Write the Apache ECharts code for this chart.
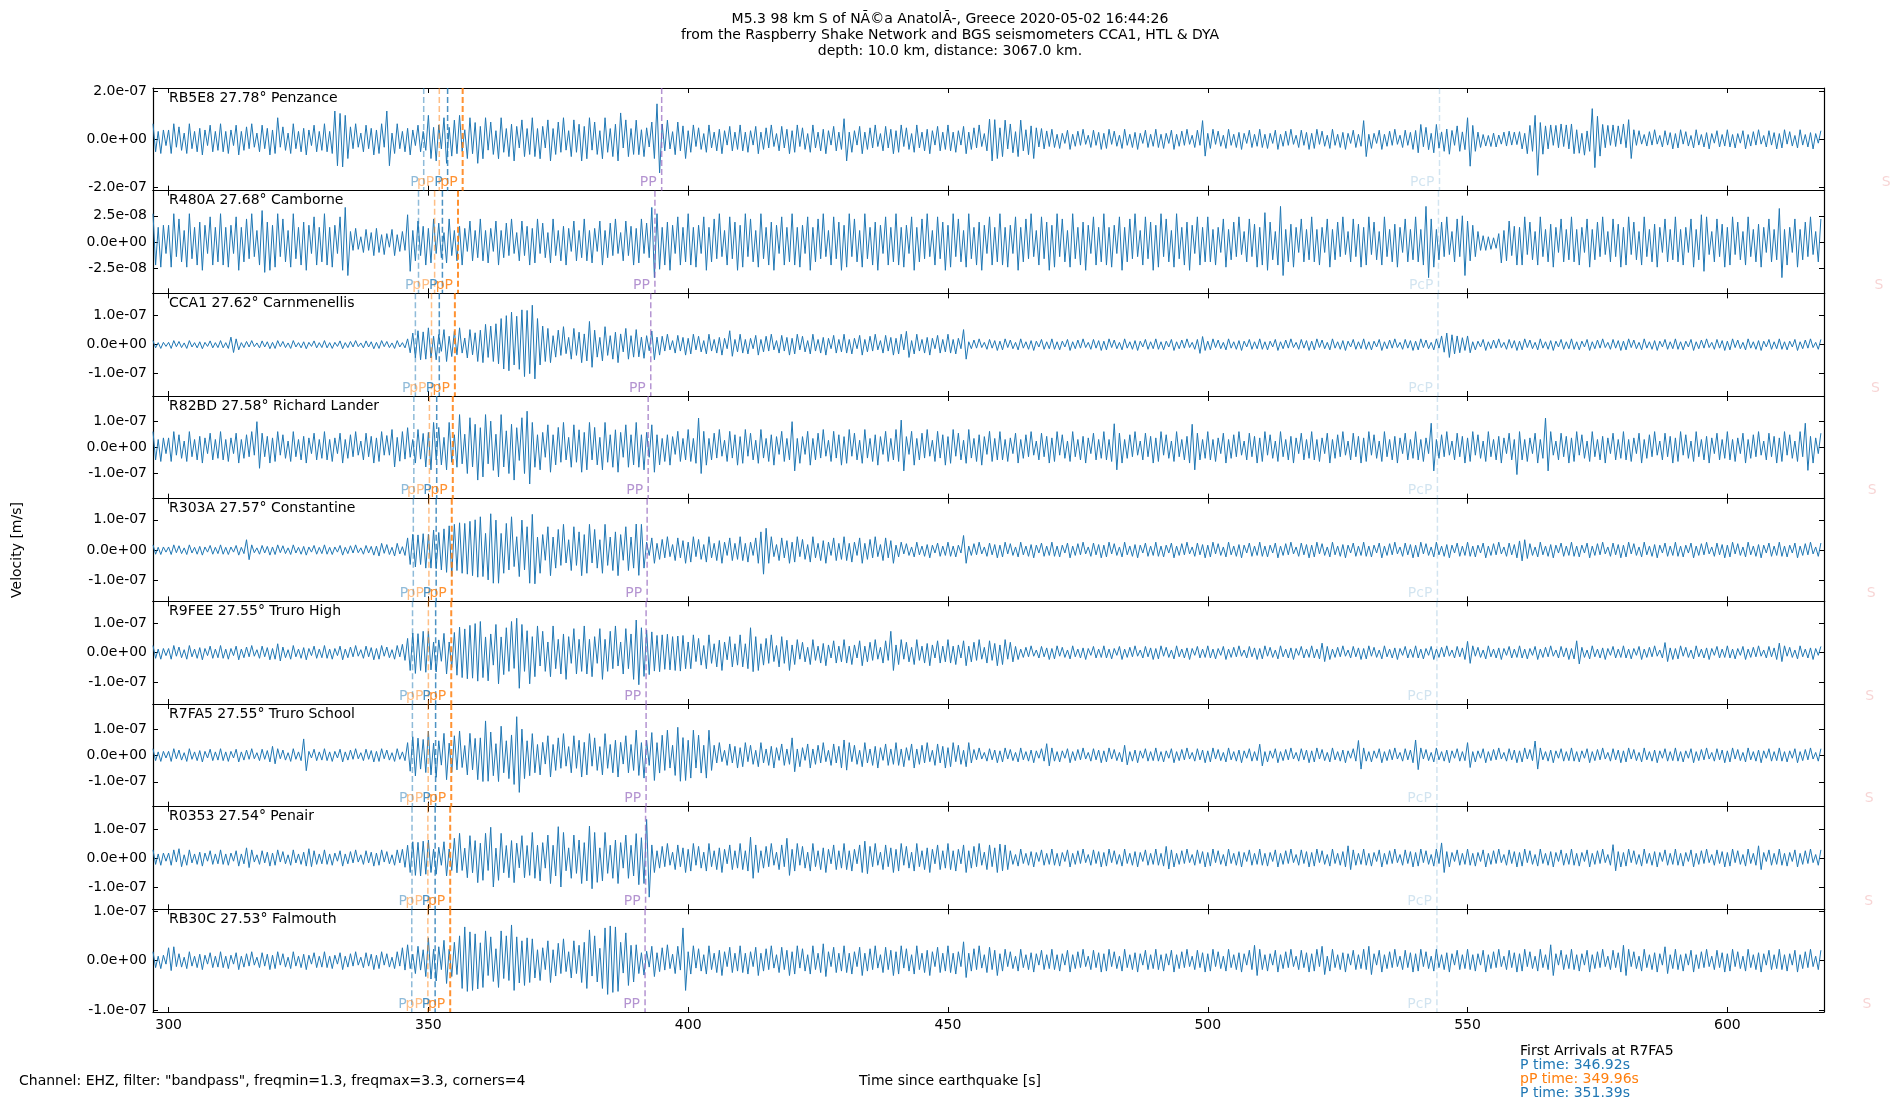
<!DOCTYPE html>
<html>
<head>
<meta charset="utf-8">
<script src="https://cdn.jsdelivr.net/npm/echarts@6/dist/echarts.min.js"></script>
<style>
html,body{margin:0;padding:0;background:#fff;}
#chart{width:1900px;height:1100px;}
</style>
</head>
<body>
<div id="chart"></div>
<script>
// ---------------- DATA ----------------
const T_START = 297;            // time of first sample [s]
const T_STEP = 0.5;             // sample spacing [s]
const X_TICKS = [300, 350, 400, 450, 500, 550, 600];
const STATION_LABELS = ['RB5E8 27.78° Penzance', 'R480A 27.68° Camborne', 'CCA1 27.62° Carnmenellis',
  'R82BD 27.58° Richard Lander', 'R303A 27.57° Constantine', 'R9FEE 27.55° Truro High',
  'R7FA5 27.55° Truro School', 'R0353 27.54° Penair', 'RB30C 27.53° Falmouth'];
// velocity extrema in nm/s, one line per 10 s (first line 297-299.5 s)
const RB5E8 = [65,-52,33,-59,39,-26,
39,-59,65,-33,52,-46,26,-59,65,-39,33,-52,46,-65,39,-26,59,-52,33,-46,
65,-52,33,-59,39,-26,59,-65,33,-46,52,-39,65,-33,26,-52,59,-39,46,-65,
39,-59,90,-33,52,-46,26,-59,65,-39,33,-52,46,-65,39,-26,59,-52,33,-46,
65,-52,33,-59,118,-110,108,-115,100,-80,52,-39,65,-33,26,-52,59,-39,46,-65,
39,-59,65,-33,118,-110,26,-59,65,-39,33,-52,46,-65,39,-26,59,-52,33,-46,
100,-80,50,-90,60,-40,90,-100,50,-70,80,-60,100,-50,40,-80,90,-60,70,-100,
54,-81,90,-45,72,-63,36,-81,90,-54,45,-72,63,-90,54,-36,81,-72,45,-63,
90,-72,45,-81,54,-36,81,-90,45,-63,72,-54,90,-45,36,-72,81,-54,63,-90,
54,-81,90,-45,72,-63,36,-81,90,-54,45,-72,63,-90,110,-36,81,-72,45,-63,
80,-64,40,-72,48,-32,72,-80,148,-140,64,-48,80,-40,32,-64,72,-48,56,-80,
36,-54,60,-30,48,-42,24,-54,60,-36,30,-48,42,-60,36,-24,54,-48,30,-42,
60,-48,30,-54,36,-24,54,-60,30,-42,48,-36,60,-30,24,-48,54,-36,42,-60,
36,-54,60,-30,48,-42,24,-54,60,-36,30,-48,42,-60,36,-24,54,-48,30,-42,
86,-90,30,-54,36,-24,54,-60,30,-42,48,-36,60,-30,24,-48,54,-36,42,-60,
36,-54,60,-30,48,-42,24,-54,60,-36,30,-48,42,-60,36,-24,54,-48,30,-42,
60,-48,30,-54,36,-24,54,-60,30,-42,48,-36,60,-30,24,-48,84,-90,82,-80,
48,-72,80,-40,64,-56,32,-72,80,-48,40,-64,56,-80,48,-32,45,-40,35,-30,
42,-34,21,-38,25,-17,38,-42,21,-29,34,-25,42,-21,17,-34,38,-25,29,-42,
25,-38,42,-21,34,-29,17,-38,42,-25,21,-34,29,-42,25,-17,38,-34,21,-29,
42,-34,21,-38,25,-17,38,-42,21,-29,34,-25,42,-21,17,-34,38,-25,78,-70,
25,-38,42,-21,34,-29,17,-38,42,-25,21,-34,29,-42,25,-17,38,-34,21,-29,
42,-34,21,-38,25,-17,38,-42,21,-29,34,-25,42,-21,17,-34,38,-25,29,-42,
25,-38,42,-21,34,-29,17,-38,42,-25,21,-34,29,-42,25,-17,38,-34,21,-29,
78,-72,21,-38,25,-17,38,-42,21,-29,34,-25,42,-21,17,-34,38,-25,29,-42,
37,-56,62,-31,50,-43,25,-56,62,-37,31,-50,43,-62,37,-25,56,-50,31,-43,
90,-112,58,-50,30,-34,20,-28,16,-30,26,-32,18,-20,30,-28,34,-24,30,-22,
32,-40,25,-60,58,-50,100,-150,70,-62,56,-40,60,-25,58,-35,64,-30,60,-40,
64,-60,40,-58,25,-66,35,-50,128,-118,96,-70,62,-35,58,-25,60,-30,56,-20,
64,-35,82,-80,40,-25,36,-20,20,-28,32,-24,40,-20,16,-32,36,-24,28,-40,
24,-36,40,-20,32,-28,16,-36,40,-24,20,-32,28,-40,24,-16,36,-32,20,-28,
40,-32,20,-36,24,-16,36,-40,20,-28,32,-24,40,-20,16,-32,36,-24,28,-40,
24,-36,40,-20,32,-28,16,-36,40,-24,20,-32,28,-40,24,-16,36];
const R480A = [27,-22,14,-24,16,-11,
16,-24,27,-14,22,-19,11,-24,27,-16,14,-22,19,-27,16,-11,24,-22,14,-19,
27,-22,14,-24,16,-11,24,-27,14,-19,22,-16,27,-14,11,-22,30,-29,19,-27,
16,-24,27,-14,22,-19,11,-24,27,-16,14,-22,19,-27,16,-11,24,-22,14,-19,
27,-22,14,-24,16,-11,24,-27,33,-32,10,-8,13,-7,5,-10,12,-8,9,-13,
13,-10,7,-12,8,-5,12,-13,7,-9,10,-8,26,-28,11,-18,20,-13,15,-22,
13,-20,22,-11,18,-15,9,-20,22,-13,11,-18,15,-22,13,-9,20,-18,11,-15,
22,-18,11,-20,13,-9,20,-22,11,-15,18,-13,22,-11,9,-18,20,-13,15,-22,
13,-20,22,-11,18,-15,9,-20,22,-13,11,-18,15,-22,13,-9,20,-18,11,-15,
22,-18,11,-20,13,-9,20,-22,11,-15,18,-13,22,-11,9,-18,20,-13,15,-22,
13,-20,22,-11,18,-15,33,-34,27,-26,14,-22,19,-27,16,-11,24,-22,14,-19,
27,-22,14,-24,16,-11,24,-27,14,-19,22,-16,27,-14,11,-22,24,-16,19,-27,
16,-24,27,-14,22,-19,11,-24,27,-16,14,-22,19,-27,16,-11,24,-22,14,-19,
27,-22,14,-24,16,-11,24,-27,14,-19,22,-16,27,-14,11,-22,24,-16,19,-27,
16,-24,27,-14,22,-19,11,-24,27,-16,14,-22,19,-27,16,-11,24,-22,14,-19,
27,-22,14,-24,16,-11,24,-27,14,-19,22,-16,27,-14,11,-22,24,-16,19,-27,
16,-24,27,-14,22,-19,11,-24,27,-16,14,-22,19,-27,16,-11,24,-22,14,-19,
27,-22,14,-24,16,-11,24,-27,14,-19,22,-16,27,-14,11,-22,24,-16,19,-27,
16,-24,27,-14,22,-19,11,-24,27,-16,14,-22,19,-27,16,-11,24,-22,14,-19,
27,-22,14,-24,16,-11,24,-27,14,-19,22,-16,27,-14,11,-22,24,-16,19,-27,
16,-24,27,-14,22,-19,11,-24,27,-16,14,-22,19,-27,16,-11,24,-22,14,-19,
24,-19,12,-22,14,-10,22,-24,12,-17,19,-14,24,-12,10,-19,22,-14,17,-24,
14,-22,28,-27,19,-17,10,-22,34,-32,12,-19,17,-24,14,-10,22,-19,12,-17,
24,-19,12,-22,14,-10,22,-24,12,-17,19,-14,24,-12,10,-19,22,-14,17,-24,
14,-22,24,-12,19,-17,10,-22,24,-14,12,-19,17,-24,14,-10,22,-19,12,-17,
24,-19,12,-22,34,-34,22,-24,12,-17,19,-14,24,-12,10,-19,22,-14,25,-32,
20,-18,16,-14,10,-8,6,-8,5,-7,4,-6,8,-20,11,-18,20,-13,15,-22,
14,-22,24,-12,19,-17,10,-22,24,-14,12,-19,17,-24,14,-10,22,-19,12,-17,
24,-19,12,-22,14,-10,22,-24,12,-17,19,-14,24,-12,10,-19,22,-14,17,-24,
14,-22,24,-12,19,-17,10,-22,24,-14,12,-19,17,-24,14,-10,22,-19,12,-17,
24,-19,12,-22,14,-10,22,-24,12,-17,26,-28,24,-12,10,-19,22,-14,17,-24,
14,-22,24,-12,19,-17,10,-22,24,-14,12,-19,17,-24,14,-10,22,-19,12,-17,
32,-34,12,-22,14,-10,22,-24,12,-17,19,-14,24,-12,10,-19,22];
const CCA1 = [14,-11,7,-13,8,-6,
8,-13,14,-7,11,-10,6,-13,14,-8,7,-11,10,-14,8,-6,13,-11,7,-10,
14,-11,7,-13,26,-27,20,-18,7,-10,11,-8,14,-7,6,-11,13,-8,10,-14,
8,-13,14,-7,11,-10,6,-13,14,-8,7,-11,10,-14,8,-6,13,-11,7,-10,
14,-11,7,-13,8,-6,13,-14,7,-10,11,-8,14,-7,6,-11,13,-8,10,-14,
8,-13,14,-7,11,-10,6,-13,14,-8,7,-11,20,-28,40,-45,48,-52,44,-50,
58,-46,29,-52,35,-23,52,-58,29,-41,46,-35,58,-29,23,-46,52,-35,41,-58,
50,-62,70,-44,64,-58,72,-66,90,-84,100,-90,112,-70,98,-85,120,-110,118,-100,
136,-118,90,-70,64,-58,56,-62,31,-43,50,-37,62,-31,25,-50,56,-37,43,-62,
37,-56,80,-78,50,-43,25,-56,62,-37,31,-50,43,-62,37,-25,56,-50,31,-43,
52,-42,26,-47,31,-21,47,-52,26,-36,29,-22,36,-18,14,-29,32,-22,25,-36,
22,-32,36,-18,29,-25,14,-32,36,-22,18,-29,25,-36,22,-14,48,-40,18,-25,
36,-29,18,-32,22,-14,32,-36,18,-25,29,-22,36,-18,14,-29,32,-22,25,-36,
22,-32,36,-18,29,-25,14,-32,36,-22,18,-29,25,-36,22,-14,32,-29,18,-25,
36,-29,18,-32,22,-14,32,-36,18,-25,29,-22,36,-18,14,-29,32,-22,25,-36,
22,-32,36,-18,46,-44,14,-32,36,-22,18,-29,25,-36,22,-14,32,-29,18,-25,
36,-29,18,-32,22,-14,52,-50,10,-14,16,-12,20,-10,8,-16,18,-12,14,-20,
12,-18,20,-10,16,-14,8,-18,20,-12,10,-16,14,-20,12,-8,18,-16,10,-14,
20,-16,10,-18,12,-8,18,-20,10,-14,16,-12,20,-10,8,-16,18,-12,14,-20,
12,-18,20,-10,16,-14,8,-18,20,-12,10,-16,14,-20,12,-8,18,-16,10,-14,
20,-16,10,-18,12,-8,18,-20,10,-14,16,-12,20,-10,8,-16,18,-30,28,-20,
12,-18,20,-10,16,-14,8,-18,20,-12,10,-16,14,-20,12,-8,18,-16,10,-14,
20,-16,10,-18,12,-8,18,-20,10,-14,16,-12,20,-10,8,-16,18,-12,14,-20,
12,-18,20,-10,16,-14,8,-18,20,-12,10,-16,14,-20,12,-8,18,-16,10,-14,
20,-16,10,-18,12,-8,18,-20,10,-14,16,-12,20,-10,8,-16,18,-12,14,-20,
12,-18,20,-10,16,-14,8,-18,20,-12,30,-26,40,-44,34,-32,30,-28,24,-20,
30,-28,10,-18,12,-8,18,-20,10,-14,16,-12,20,-10,8,-16,18,-12,14,-20,
12,-18,20,-10,16,-14,8,-18,20,-12,10,-16,14,-20,12,-8,18,-16,10,-14,
20,-16,10,-18,12,-8,18,-20,10,-14,16,-12,20,-10,8,-16,18,-12,14,-20,
12,-18,20,-10,16,-14,8,-18,20,-12,10,-16,14,-20,12,-8,18,-16,10,-14,
20,-16,10,-18,12,-8,18,-20,10,-14,16,-12,20,-10,8,-16,18,-12,14,-20,
12,-18,20,-10,16,-14,8,-18,20,-12,10,-16,14,-20,12,-8,18,-16,10,-14,
20,-16,10,-18,12,-8,18,-20,10,-14,16,-12,20,-10,8,-16,18];
const R82BD = [60,-48,30,-54,36,-24,
36,-54,60,-30,48,-42,24,-54,60,-36,30,-48,42,-60,36,-24,54,-48,30,-42,
60,-48,30,-54,36,-24,54,-60,30,-42,48,-36,60,-30,98,-80,54,-36,42,-60,
36,-54,60,-30,48,-42,24,-54,60,-36,30,-48,42,-60,36,-24,54,-48,30,-42,
60,-48,30,-54,36,-24,54,-60,30,-42,48,-36,60,-30,24,-48,54,-36,42,-60,
36,-54,60,-30,45,-30,68,-75,38,-53,60,-45,75,-38,30,-60,68,-45,53,-75,
57,-86,95,-48,76,-67,38,-86,95,-57,48,-76,125,-63,50,-100,113,-75,88,-125,
75,-113,125,-63,100,-88,50,-113,125,-75,63,-100,88,-125,75,-50,113,-100,138,-140,
95,-76,48,-86,57,-38,86,-95,48,-67,76,-57,95,-48,38,-76,86,-57,67,-95,
57,-86,95,-48,76,-67,38,-86,95,-57,48,-76,67,-95,57,-38,86,-76,48,-67,
95,-76,48,-86,57,-38,86,-95,48,-67,34,-54,48,-68,41,-27,61,-54,34,-48,
68,-54,34,-61,112,-100,61,-68,34,-48,54,-41,68,-34,27,-54,61,-41,48,-68,
41,-61,68,-34,54,-48,27,-61,68,-41,34,-54,48,-68,41,-27,61,-54,34,-48,
98,-90,34,-61,41,-27,61,-68,34,-48,54,-41,68,-34,27,-54,61,-41,48,-68,
41,-61,68,-34,54,-48,27,-61,68,-41,34,-54,48,-68,41,-27,61,-54,34,-48,
68,-54,104,-90,41,-27,61,-68,34,-48,54,-41,68,-34,27,-54,61,-41,48,-68,
41,-61,68,-34,54,-48,27,-61,68,-41,34,-54,48,-68,41,-27,61,-54,34,-48,
60,-48,30,-54,36,-24,54,-60,30,-42,48,-36,60,-30,24,-48,54,-36,42,-60,
36,-54,60,-30,48,-42,24,-54,60,-36,30,-48,42,-60,36,-24,54,-48,30,-42,
60,-48,30,-54,90,-86,54,-60,30,-42,48,-36,60,-30,24,-48,54,-36,42,-60,
36,-54,60,-30,48,-42,24,-54,60,-36,30,-48,42,-60,88,-86,54,-48,30,-42,
60,-48,30,-54,36,-24,54,-60,30,-42,48,-36,60,-30,24,-48,54,-36,42,-60,
36,-54,60,-30,48,-42,24,-54,60,-36,30,-48,42,-60,36,-24,54,-48,30,-42,
60,-48,30,-54,36,-24,54,-60,30,-42,48,-36,60,-30,24,-48,54,-36,42,-60,
36,-54,60,-30,48,-42,24,-54,60,-36,30,-48,42,-60,36,-24,54,-48,30,-42,
60,-48,30,-54,36,-24,92,-90,30,-42,48,-36,60,-30,24,-48,54,-36,42,-60,
36,-54,60,-30,48,-42,24,-54,60,-36,30,-48,42,-60,36,-24,54,-48,30,-104,
60,-48,30,-54,36,-24,54,-60,30,-42,112,-90,60,-30,24,-48,54,-36,42,-60,
36,-54,60,-30,48,-42,24,-54,60,-36,30,-48,42,-60,36,-24,54,-48,30,-42,
60,-48,30,-54,36,-24,54,-60,30,-42,48,-36,60,-30,24,-48,54,-36,42,-60,
36,-54,60,-30,48,-42,24,-54,60,-36,30,-48,42,-60,36,-24,54,-48,30,-42,
60,-48,30,-54,36,-24,54,-60,30,-42,48,-36,60,-30,24,-48,54,-36,42,-60,
36,-54,60,-30,48,-42,24,-54,60,-36,92,-88,42,-60,36,-24,54];
const R303A = [17,-14,9,-15,10,-7,
10,-15,17,-9,14,-12,7,-15,17,-10,9,-14,12,-17,10,-7,15,-14,9,-12,
17,-14,9,-15,10,-7,15,-17,9,-12,34,-32,17,-9,7,-14,15,-10,12,-17,
10,-15,17,-9,14,-12,7,-15,17,-10,9,-14,12,-17,10,-7,15,-14,9,-12,
17,-14,9,-15,10,-7,15,-17,9,-12,14,-10,17,-9,7,-14,15,-10,12,-17,
13,-20,22,-11,18,-15,9,-20,22,-13,11,-18,40,-48,52,-56,50,-48,54,-60,
52,-60,66,-62,58,-66,70,-74,80,-86,85,-68,90,-77,88,-80,95,-85,100,-90,
110,-88,55,-99,120,-110,99,-110,55,-77,88,-66,110,-55,44,-88,99,-66,77,-110,
118,-112,43,-77,51,-34,77,-85,43,-60,68,-51,85,-43,34,-68,77,-51,60,-85,
51,-77,85,-43,68,-60,34,-77,85,-51,43,-68,60,-85,51,-34,77,-68,43,-60,
86,-84,85,-60,26,-18,40,-44,22,-31,35,-26,44,-22,18,-35,40,-26,31,-44,
26,-40,44,-22,35,-31,18,-40,44,-26,22,-35,31,-44,26,-18,40,-35,22,-31,
44,-35,22,-40,26,-18,40,-44,60,-80,72,-44,44,-22,18,-35,40,-26,31,-44,
26,-40,44,-22,35,-31,18,-40,44,-26,22,-35,31,-44,26,-18,40,-35,22,-31,
44,-35,22,-40,26,-18,40,-44,22,-31,35,-26,44,-22,18,-35,40,-26,31,-44,
16,-23,26,-13,21,-18,10,-23,26,-16,13,-21,18,-26,16,-10,23,-21,13,-18,
26,-21,13,-23,16,-10,48,-44,13,-18,21,-16,26,-13,10,-21,23,-16,18,-26,
16,-23,26,-13,21,-18,10,-23,26,-16,13,-21,18,-26,16,-10,23,-21,13,-18,
26,-21,13,-23,16,-10,23,-26,13,-18,21,-16,26,-13,10,-21,23,-16,18,-26,
16,-23,26,-13,21,-18,10,-23,26,-16,13,-21,18,-26,16,-10,23,-21,13,-18,
26,-21,13,-23,16,-10,23,-26,13,-18,21,-16,26,-13,10,-21,23,-16,18,-26,
16,-23,26,-13,21,-18,10,-23,26,-16,13,-21,18,-26,16,-10,23,-21,13,-18,
26,-21,13,-23,16,-10,23,-26,13,-18,21,-16,26,-13,10,-21,23,-16,18,-26,
16,-23,26,-13,21,-18,10,-23,26,-16,13,-21,18,-26,16,-10,23,-21,13,-18,
26,-21,13,-23,16,-10,23,-26,13,-18,21,-16,26,-13,10,-21,23,-16,18,-26,
16,-23,26,-13,21,-18,10,-23,26,-16,13,-21,18,-26,16,-10,23,-21,13,-18,
26,-21,13,-23,16,-10,23,-26,13,-18,21,-16,26,-13,10,-21,23,-16,18,-26,
30,-36,34,-28,21,-18,10,-23,26,-16,13,-21,18,-26,16,-10,23,-21,13,-18,
26,-21,13,-23,16,-10,23,-26,13,-18,21,-16,26,-13,10,-21,23,-16,18,-26,
16,-23,26,-13,21,-18,10,-23,26,-16,13,-21,18,-26,16,-10,23,-21,13,-18,
26,-21,13,-23,16,-10,23,-26,13,-18,21,-16,26,-13,10,-21,23,-16,18,-26,
16,-23,26,-13,21,-18,10,-23,26,-16,13,-21,18,-26,16,-10,23,-21,13,-18,
26,-21,13,-23,16,-10,23,-26,13,-18,21,-16,26,-13,10,-21,23];
const R9FEE = [24,-19,12,-22,14,-10,
14,-22,24,-12,19,-17,10,-22,24,-14,12,-19,17,-24,14,-10,22,-19,12,-17,
24,-19,12,-22,14,-10,22,-24,12,-17,19,-14,24,-12,10,-19,22,-14,17,-24,
14,-22,30,-28,19,-17,10,-22,24,-14,12,-19,17,-24,14,-10,22,-19,12,-17,
24,-19,12,-22,14,-10,22,-24,12,-17,19,-14,24,-12,10,-19,22,-14,17,-24,
14,-22,24,-12,19,-17,10,-22,24,-14,28,-26,48,-60,66,-70,64,-60,72,-66,
72,-58,36,-65,43,-29,65,-72,36,-50,68,-76,86,-84,80,-88,92,-86,98,-96,
105,-84,53,-95,63,-42,95,-105,53,-74,84,-63,105,-53,116,-120,95,-63,74,-105,
54,-81,90,-45,72,-63,36,-81,90,-54,45,-72,63,-90,54,-36,81,-72,45,-63,
90,-72,45,-81,54,-36,81,-90,45,-63,72,-54,90,-45,36,-72,81,-54,63,-90,
110,-108,84,-80,76,-74,70,-62,58,-64,60,-56,62,-58,54,-60,56,-62,58,-54,
36,-54,60,-30,48,-42,24,-54,60,-36,30,-48,42,-60,36,-24,54,-48,30,-42,
60,-48,30,-54,84,-64,54,-60,30,-42,48,-36,60,-30,24,-48,54,-36,42,-60,
26,-40,44,-22,35,-31,18,-40,44,-26,22,-35,31,-44,26,-18,40,-35,22,-31,
44,-35,22,-40,26,-18,40,-44,22,-31,35,-26,44,-22,18,-35,40,-26,72,-60,
26,-40,44,-22,35,-31,18,-40,44,-26,22,-35,31,-44,26,-18,40,-35,22,-31,
44,-35,22,-40,26,-18,40,-44,22,-31,35,-26,44,-22,18,-35,40,-26,31,-44,
26,-40,44,-22,35,-31,21,-23,12,-16,18,-14,23,-12,9,-18,21,-14,16,-23,
14,-21,23,-12,18,-16,9,-21,23,-14,12,-18,16,-23,14,-9,21,-18,12,-16,
23,-18,12,-21,14,-9,21,-23,12,-16,18,-14,23,-12,9,-18,21,-14,16,-23,
14,-21,23,-12,18,-16,9,-21,23,-14,12,-18,16,-23,14,-9,21,-18,12,-16,
23,-18,12,-21,14,-9,21,-23,12,-16,18,-14,23,-12,9,-18,21,-14,16,-23,
14,-21,23,-12,18,-16,9,-21,23,-14,12,-18,16,-23,14,-9,21,-18,12,-16,
23,-18,12,-21,32,-30,21,-23,12,-16,18,-14,23,-12,9,-18,21,-14,16,-23,
14,-21,23,-12,18,-16,9,-21,23,-14,12,-18,16,-23,14,-9,21,-18,12,-16,
23,-18,12,-21,14,-9,21,-23,12,-16,18,-14,23,-12,9,-18,21,-14,16,-23,
38,-36,23,-12,18,-16,9,-21,23,-14,12,-18,16,-23,14,-9,21,-18,12,-16,
23,-18,12,-21,14,-9,21,-23,12,-16,18,-14,23,-12,9,-18,21,-14,16,-23,
14,-21,40,-38,18,-16,9,-21,23,-14,12,-18,16,-23,14,-9,21,-18,12,-16,
23,-18,12,-21,14,-9,21,-23,12,-16,18,-14,23,-12,9,-18,34,-30,16,-23,
14,-21,23,-12,18,-16,9,-21,23,-14,12,-18,16,-23,14,-9,21,-18,12,-16,
23,-18,12,-21,14,-9,21,-23,12,-16,18,-14,23,-12,9,-18,21,-14,16,-23,
32,-30,23,-12,18,-16,9,-21,23,-14,12,-18,16,-23,14,-9,21];
const R7FA5 = [25,-20,13,-23,15,-10,
15,-23,25,-13,20,-18,10,-23,25,-15,13,-20,18,-25,15,-10,23,-20,13,-18,
25,-20,13,-23,15,-10,23,-25,13,-18,20,-15,25,-13,10,-20,23,-15,18,-25,
34,-32,25,-13,20,-18,10,-23,25,-15,13,-20,62,-58,15,-10,23,-20,13,-18,
25,-20,13,-23,15,-10,23,-25,13,-18,20,-15,25,-13,10,-20,23,-15,18,-25,
15,-23,25,-13,20,-18,10,-23,25,-15,13,-20,48,-60,70,-78,65,-52,60,-65,
92,-74,46,-83,55,-37,83,-92,46,-64,74,-55,92,-46,37,-74,83,-55,64,-92,
66,-99,130,-98,88,-77,44,-99,110,-66,55,-88,77,-110,146,-140,99,-88,55,-77,
82,-66,41,-74,49,-33,74,-82,41,-57,66,-49,82,-41,33,-66,74,-49,57,-82,
49,-74,82,-41,66,-57,33,-74,82,-49,41,-66,57,-82,49,-33,74,-66,41,-57,
95,-76,48,-86,57,-38,86,-95,48,-67,76,-57,95,-48,38,-76,106,-98,67,-95,
57,-86,95,-48,76,-67,38,-86,95,-57,38,-29,48,-24,19,-38,43,-29,34,-48,
29,-43,48,-24,38,-34,19,-43,48,-29,24,-38,34,-48,29,-19,43,-38,24,-34,
66,-62,24,-43,29,-19,43,-48,24,-34,38,-29,48,-24,19,-38,43,-29,34,-48,
58,-56,48,-24,38,-34,19,-43,48,-29,24,-38,34,-48,29,-19,43,-38,24,-34,
48,-38,24,-43,29,-19,43,-48,24,-34,38,-29,48,-24,19,-38,43,-29,34,-48,
29,-43,48,-24,38,-34,19,-43,48,-29,22,-17,28,-14,11,-22,25,-17,20,-28,
17,-25,28,-14,22,-20,11,-25,28,-17,14,-22,20,-28,17,-11,25,-22,44,-40,
28,-22,14,-25,17,-11,25,-28,14,-20,22,-17,28,-14,11,-22,25,-17,20,-28,
17,-25,28,-14,22,-20,11,-25,38,-36,14,-22,20,-28,17,-11,25,-22,14,-20,
28,-22,14,-25,17,-11,25,-28,14,-20,22,-17,28,-14,11,-22,25,-17,20,-28,
17,-25,28,-14,22,-20,11,-25,28,-17,14,-22,20,-28,17,-11,25,-22,14,-20,
42,-40,14,-25,17,-11,25,-28,14,-20,22,-17,28,-14,11,-22,25,-17,20,-28,
17,-25,28,-14,22,-20,11,-25,28,-17,14,-22,20,-28,17,-11,25,-22,56,-52,
28,-22,14,-25,17,-11,25,-28,14,-20,22,-17,28,-14,11,-22,25,-17,20,-28,
58,-54,28,-14,22,-20,11,-25,28,-17,14,-22,20,-28,17,-11,25,-22,14,-20,
48,-46,14,-25,17,-11,25,-28,14,-20,22,-17,28,-14,11,-22,25,-17,20,-28,
17,-25,28,-14,22,-20,54,-52,28,-17,14,-22,20,-28,17,-11,25,-22,14,-20,
28,-22,14,-25,17,-11,25,-28,14,-20,22,-17,28,-14,11,-22,25,-17,20,-28,
17,-25,28,-14,22,-20,11,-25,28,-17,14,-22,20,-28,17,-11,25,-22,14,-20,
28,-22,14,-25,17,-11,25,-28,14,-20,22,-17,28,-14,11,-22,25,-17,20,-28,
17,-25,28,-14,22,-20,11,-25,28,-17,14,-22,20,-28,17,-11,25,-22,14,-20,
28,-22,14,-25,17,-11,25,-28,14,-20,22,-17,28,-14,11,-22,25];
const R0353 = [28,-22,14,-25,17,-11,
17,-25,28,-14,32,-30,11,-25,28,-17,14,-22,20,-28,17,-11,25,-22,14,-20,
28,-22,14,-25,17,-11,25,-28,14,-20,35,-33,28,-14,11,-22,25,-17,20,-28,
17,-25,28,-14,22,-20,11,-25,28,-17,14,-22,20,-28,32,-30,25,-22,14,-20,
28,-22,14,-25,17,-11,25,-28,14,-20,22,-17,28,-14,11,-22,25,-17,20,-28,
17,-25,28,-14,22,-20,11,-25,28,-17,30,-32,44,-50,56,-60,54,-62,58,-56,
62,-50,31,-56,37,-25,56,-62,31,-43,68,-51,85,-43,34,-68,77,-51,60,-85,
51,-77,85,-43,106,-100,34,-77,85,-51,43,-68,60,-85,51,-34,77,-68,43,-60,
88,-70,44,-79,53,-35,79,-88,44,-62,108,-100,88,-44,35,-70,79,-53,62,-88,
53,-79,110,-106,88,-84,35,-79,88,-53,44,-70,62,-88,53,-35,79,-70,44,-62,
84,-92,70,-88,133,-135,45,-50,25,-35,40,-30,50,-25,20,-40,45,-30,35,-50,
30,-45,50,-25,40,-35,20,-45,50,-30,25,-40,35,-50,30,-20,45,-40,25,-35,
50,-40,25,-45,72,-70,45,-50,25,-35,40,-30,50,-25,20,-40,45,-30,68,-60,
30,-45,50,-25,40,-35,20,-45,50,-30,25,-40,35,-50,30,-20,45,-40,25,-35,
50,-40,25,-45,30,-20,45,-50,58,-54,40,-30,50,-25,20,-40,45,-30,35,-50,
30,-45,50,-25,40,-35,20,-45,50,-30,25,-40,35,-50,30,-20,45,-40,25,-35,
50,-40,25,-45,30,-20,45,-50,25,-35,40,-30,50,-25,20,-40,45,-30,35,-50,
48,-44,45,-40,25,-22,12,-28,31,-19,16,-25,22,-31,19,-12,28,-25,16,-22,
31,-25,16,-28,19,-12,28,-31,16,-22,25,-19,31,-16,12,-25,28,-19,22,-31,
19,-28,31,-16,25,-22,12,-28,31,-19,16,-25,22,-31,19,-12,28,-25,16,-22,
31,-25,16,-28,40,-38,28,-31,16,-22,25,-19,31,-16,12,-25,28,-19,22,-31,
19,-28,31,-16,25,-22,12,-28,31,-19,16,-25,22,-31,19,-12,28,-25,16,-22,
31,-25,16,-28,19,-12,28,-31,16,-22,25,-19,31,-16,12,-25,28,-19,22,-31,
19,-28,31,-16,25,-22,12,-28,31,-19,16,-25,22,-31,42,-40,28,-25,16,-22,
31,-25,16,-28,19,-12,28,-31,16,-22,25,-19,31,-16,12,-25,28,-19,22,-31,
19,-28,31,-16,25,-22,12,-28,31,-19,52,-50,22,-31,19,-12,28,-25,16,-22,
31,-25,16,-28,19,-12,28,-31,16,-22,25,-19,31,-16,12,-25,28,-19,22,-31,
19,-28,31,-16,25,-22,12,-28,31,-19,16,-25,22,-31,19,-12,28,-25,16,-22,
31,-25,16,-28,19,-12,28,-31,16,-22,25,-19,31,-16,12,-25,46,-44,22,-31,
19,-28,31,-16,25,-22,12,-28,31,-19,16,-25,22,-31,19,-12,28,-25,16,-22,
31,-25,16,-28,19,-12,28,-31,16,-22,25,-19,31,-16,12,-25,28,-19,22,-31,
19,-28,31,-16,25,-22,12,-28,31,-19,16,-25,42,-40,19,-12,28,-25,16,-22,
31,-25,16,-28,19,-12,28,-31,16,-22,25,-19,31,-16,12,-25,28];
const RB30C = [18,-14,9,-16,11,-7,
26,-20,28,-12,14,-13,7,-16,18,-11,9,-14,13,-18,11,-7,16,-14,9,-13,
18,-14,9,-16,11,-7,16,-18,9,-13,14,-11,18,-9,7,-14,16,-11,13,-18,
11,-16,18,-9,14,-13,7,-16,18,-11,9,-14,13,-18,11,-7,16,-14,9,-13,
18,-14,9,-16,11,-7,16,-18,9,-13,14,-11,18,-9,7,-14,16,-11,13,-18,
11,-16,18,-9,14,-13,7,-16,18,-11,26,-19,32,-16,13,-26,29,-19,22,-32,
46,-37,23,-41,28,-18,41,-46,23,-32,37,-28,50,-56,68,-62,58,-60,54,-57,
36,-54,60,-30,48,-42,24,-54,60,-36,50,-40,72,-60,48,-45,40,-50,46,-44,
44,-35,22,-40,26,-18,40,-44,22,-31,35,-26,44,-22,18,-35,40,-26,31,-44,
37,-56,62,-31,50,-43,25,-56,66,-68,70,-64,68,-62,37,-25,56,-50,31,-43,
32,-26,16,-29,19,-13,29,-32,16,-22,26,-19,32,-16,13,-26,29,-19,66,-60,
18,-27,30,-15,24,-21,12,-27,30,-18,15,-24,21,-30,18,-12,27,-24,15,-21,
30,-24,15,-27,18,-12,27,-30,15,-21,24,-18,30,-15,12,-24,27,-18,21,-30,
18,-27,30,-15,24,-21,12,-27,30,-18,15,-24,34,-32,18,-12,27,-24,15,-21,
30,-24,15,-27,18,-12,27,-30,15,-21,24,-18,30,-15,12,-24,27,-18,21,-30,
18,-27,30,-15,24,-21,12,-27,30,-18,15,-24,21,-30,18,-12,27,-24,15,-21,
30,-24,15,-27,18,-12,38,-34,15,-21,24,-18,30,-15,12,-24,27,-18,21,-30,
14,-21,23,-12,18,-16,9,-21,23,-14,12,-18,16,-23,14,-9,21,-18,12,-16,
23,-18,12,-21,14,-9,21,-23,12,-16,18,-14,23,-12,9,-18,21,-14,16,-23,
14,-21,23,-12,18,-16,9,-21,23,-14,12,-18,16,-23,14,-9,21,-18,12,-16,
23,-18,12,-21,14,-9,21,-23,12,-16,18,-14,23,-12,9,-18,21,-14,16,-23,
14,-21,23,-12,18,-16,9,-21,23,-14,12,-18,16,-23,14,-9,21,-18,31,-30,
23,-18,12,-21,14,-9,21,-23,12,-16,18,-14,23,-12,9,-18,21,-14,16,-23,
14,-21,23,-12,29,-28,9,-21,23,-14,12,-18,16,-23,14,-9,21,-18,12,-16,
23,-18,29,-28,14,-9,21,-23,12,-16,18,-14,23,-12,9,-18,21,-14,16,-23,
14,-21,23,-12,18,-16,9,-21,23,-14,12,-18,16,-23,14,-9,21,-18,12,-16,
23,-18,12,-21,14,-9,21,-23,12,-16,18,-14,23,-12,9,-18,21,-14,16,-23,
14,-21,23,-12,18,-16,9,-21,23,-14,12,-18,32,-30,14,-9,21,-18,12,-16,
23,-18,12,-21,14,-9,21,-23,12,-16,18,-14,23,-12,9,-18,21,-14,16,-23,
31,-30,23,-12,18,-16,9,-21,23,-14,12,-18,16,-23,14,-9,28,-26,12,-16,
23,-18,12,-21,14,-9,21,-23,12,-16,18,-14,23,-12,9,-18,21,-14,16,-23,
14,-21,23,-12,18,-16,9,-21,23,-14,12,-18,16,-23,14,-9,21,-18,12,-16,
23,-18,12,-21,14,-9,21,-23,12,-16,18,-14,23,-12,9,-18,21];
const TRACES = [RB5E8, R480A, CCA1, R82BD, R303A, R9FEE, R7FA5, R0353, RB30C];
// y tick values per panel (nm/s)
const Y_TICKS = [[-200,0,200],[-25,0,25],[-100,0,100],[-100,0,100],[-100,0,100],
  [-100,0,100],[-100,0,100],[-100,0,100],[-100,0,100]];
// arrival times per station [s]
const PHASE_NAMES = ['P', 'pP', 'P', 'pP', 'PP', 'PcP', 'S'];
const ARR_P1  = [349.1, 348.1, 347.5, 347.2, 347.1, 346.95, 346.92, 346.85, 346.8];
const ARR_pP1 = [352.1, 351.2, 350.6, 350.2, 350.1, 350.0, 349.96, 349.9, 349.9];
const ARR_P2  = [353.7, 352.7, 352.1, 351.6, 351.5, 351.4, 351.39, 351.3, 351.3];
const ARR_pP2 = [356.6, 355.7, 355.1, 354.7, 354.5, 354.4, 354.4, 354.2, 354.2];
const ARR_PP  = [394.9, 393.6, 392.8, 392.3, 392.1, 391.9, 391.9, 391.8, 391.7];
const ARR_PcP = [544.6, 544.4, 544.3, 544.2, 544.2, 544.1, 544.1, 544.1, 544.1];
const ARR_S   = [632.4, 631.0, 630.3, 629.7, 629.5, 629.2, 629.1, 629.0, 628.7];
const ARRIVALS = [ARR_P1, ARR_pP1, ARR_P2, ARR_pP2, ARR_PP, ARR_PcP, ARR_S];

// ---------------- LAYOUT / STYLE ----------------
const FONT = '"DejaVu Sans", "Liberation Sans", sans-serif';
const Y_HALF = [214, 49, 177, 196, 170, 173, 194, 177, 103.5];
const X_MIN = 297.0, X_MAX = 618.6;
const PLOT_L = 153, PLOT_R = 1824, PLOT_T = 88, PLOT_B = 1012;
const PH = (PLOT_B - PLOT_T) / 9;
const PHASE_COLORS = ['rgba(31,119,180,0.5)', 'rgba(255,127,14,0.5)', 'rgba(31,119,180,0.8)',
  'rgba(255,127,14,0.85)', 'rgba(148,103,189,0.7)', 'rgba(31,119,180,0.2)', 'rgba(214,39,40,0.2)'];
const PHASE_WIDTH = [1.5, 1.5, 1.5, 2, 1.5, 1.5, 1.5];

function sci(nm) {
  const v = nm * 1e-9;
  if (Math.abs(v) < 1e-20) return '0.0e+00';
  const s = v.toExponential(1);
  const m = s.match(/^(-?[\d.]+)e([+-])(\d+)$/);
  return m ? m[1] + 'e' + m[2] + m[3].padStart(2, '0') : s;
}

const grids = [], xAxes = [], yAxes = [], series = [], graphics = [];
for (let i = 0; i < 9; i++) {
  const top = PLOT_T + i * PH;
  grids.push({ left: PLOT_L, width: PLOT_R - PLOT_L, top: top, height: PH, containLabel: false });
  const isLast = i === 8;
  xAxes.push({
    type: 'value', gridIndex: i, min: X_MIN, max: X_MAX, position: 'bottom',
    axisLine: { show: true, onZero: false, lineStyle: { color: '#000', width: 1.2 } },
    axisTick: { show: true, inside: true, length: 5, customValues: X_TICKS, lineStyle: { color: '#000', width: 1 } },
    axisLabel: { show: isLast, customValues: X_TICKS, margin: 6, color: '#000', fontSize: 14, fontFamily: FONT },
    splitLine: { show: false }
  });
  xAxes.push({
    type: 'value', gridIndex: i, min: X_MIN, max: X_MAX, position: 'top',
    axisLine: { show: true, onZero: false, lineStyle: { color: '#000', width: 1.2 } },
    axisTick: { show: true, inside: true, length: 5, customValues: X_TICKS, lineStyle: { color: '#000', width: 1 } },
    axisLabel: { show: false },
    splitLine: { show: false }
  });
  yAxes.push({
    type: 'value', gridIndex: i, min: -Y_HALF[i], max: Y_HALF[i], position: 'left',
    axisLine: { show: true, onZero: false, lineStyle: { color: '#000', width: 1.2 } },
    axisTick: { show: true, inside: true, length: 5, customValues: Y_TICKS[i], lineStyle: { color: '#000', width: 1 } },
    axisLabel: { show: true, customValues: Y_TICKS[i], margin: 6, color: '#000', fontSize: 14, fontFamily: FONT, formatter: sci },
    splitLine: { show: false }
  });
  yAxes.push({
    type: 'value', gridIndex: i, min: -Y_HALF[i], max: Y_HALF[i], position: 'right',
    axisLine: { show: true, onZero: false, lineStyle: { color: '#000', width: 1.2 } },
    axisTick: { show: true, inside: true, length: 5, customValues: Y_TICKS[i], lineStyle: { color: '#000', width: 1 } },
    axisLabel: { show: false },
    splitLine: { show: false }
  });
  series.push({
    type: 'line', xAxisIndex: 2 * i, yAxisIndex: 2 * i,
    data: TRACES[i].map((v, k) => [T_START + k * T_STEP, v]),
    showSymbol: false, symbol: 'none', silent: true, z: 2,
    lineStyle: { color: '#1f77b4', width: 1 }
  });
  series.push({
    type: 'custom', xAxisIndex: 2 * i, yAxisIndex: 2 * i, clip: false, silent: true, z: 5,
    data: ARRIVALS.map((arr, k) => [arr[i], k]),
    renderItem: function (params, api) {
      const t = api.value(0), k = api.value(1);
      const cs = params.coordSys;
      const x = api.coord([t, 0])[0];
      const col = PHASE_COLORS[k];
      const children = [];
      if (x >= cs.x && x <= cs.x + cs.width) {
        children.push({ type: 'line', shape: { x1: x, y1: cs.y, x2: x, y2: cs.y + cs.height },
          style: { stroke: col, lineWidth: PHASE_WIDTH[k], lineDash: [6, 3] } });
      }
      children.push({ type: 'text', x: x - 5, y: cs.y + cs.height - 1,
        style: { text: PHASE_NAMES[k], fill: col, font: '14px ' + FONT,
          align: 'right', textAlign: 'right', verticalAlign: 'bottom', textVerticalAlign: 'bottom' } });
      return { type: 'group', children: children };
    }
  });
  graphics.push({ type: 'text', x: 169, y: top + 10,
    style: { text: STATION_LABELS[i], fill: '#000', font: '14px ' + FONT,
      align: 'left', textAlign: 'left', verticalAlign: 'middle', textVerticalAlign: 'middle' } });
}

function txt(x, y, text, color, align, rot) {
  return { type: 'text', x: x, y: y, rotation: rot || 0,
    style: { text: text, fill: color || '#000', font: '14px ' + FONT,
      align: align || 'center', textAlign: align || 'center', verticalAlign: 'middle', textVerticalAlign: 'middle' } };
}
graphics.push(txt(950, 19, 'M5.3 98 km S of NÃ©a AnatolÃ-, Greece 2020-05-02 16:44:26'));
graphics.push(txt(950, 35, 'from the Raspberry Shake Network and BGS seismometers CCA1, HTL & DYA'));
graphics.push(txt(950, 51, 'depth: 10.0 km, distance: 3067.0 km.'));
graphics.push(txt(17, 550, 'Velocity [m/s]', '#000', 'center', Math.PI / 2));
graphics.push(txt(19, 1081, 'Channel: EHZ, filter: "bandpass", freqmin=1.3, freqmax=3.3, corners=4', '#000', 'left'));
graphics.push(txt(950, 1081, 'Time since earthquake [s]'));
graphics.push(txt(1520, 1051, 'First Arrivals at R7FA5', '#000', 'left'));
graphics.push(txt(1520, 1065, 'P time: 346.92s', '#1f77b4', 'left'));
graphics.push(txt(1520, 1079, 'pP time: 349.96s', '#ff7f0e', 'left'));
graphics.push(txt(1520, 1093, 'P time: 351.39s', '#1f77b4', 'left'));

const chart = echarts.init(document.getElementById('chart'), null, { renderer: 'canvas' });
chart.setOption({
  animation: false,
  backgroundColor: '#fff',
  grid: grids, xAxis: xAxes, yAxis: yAxes, series: series,
  graphic: { elements: graphics }
});
</script>
</body>
</html>
